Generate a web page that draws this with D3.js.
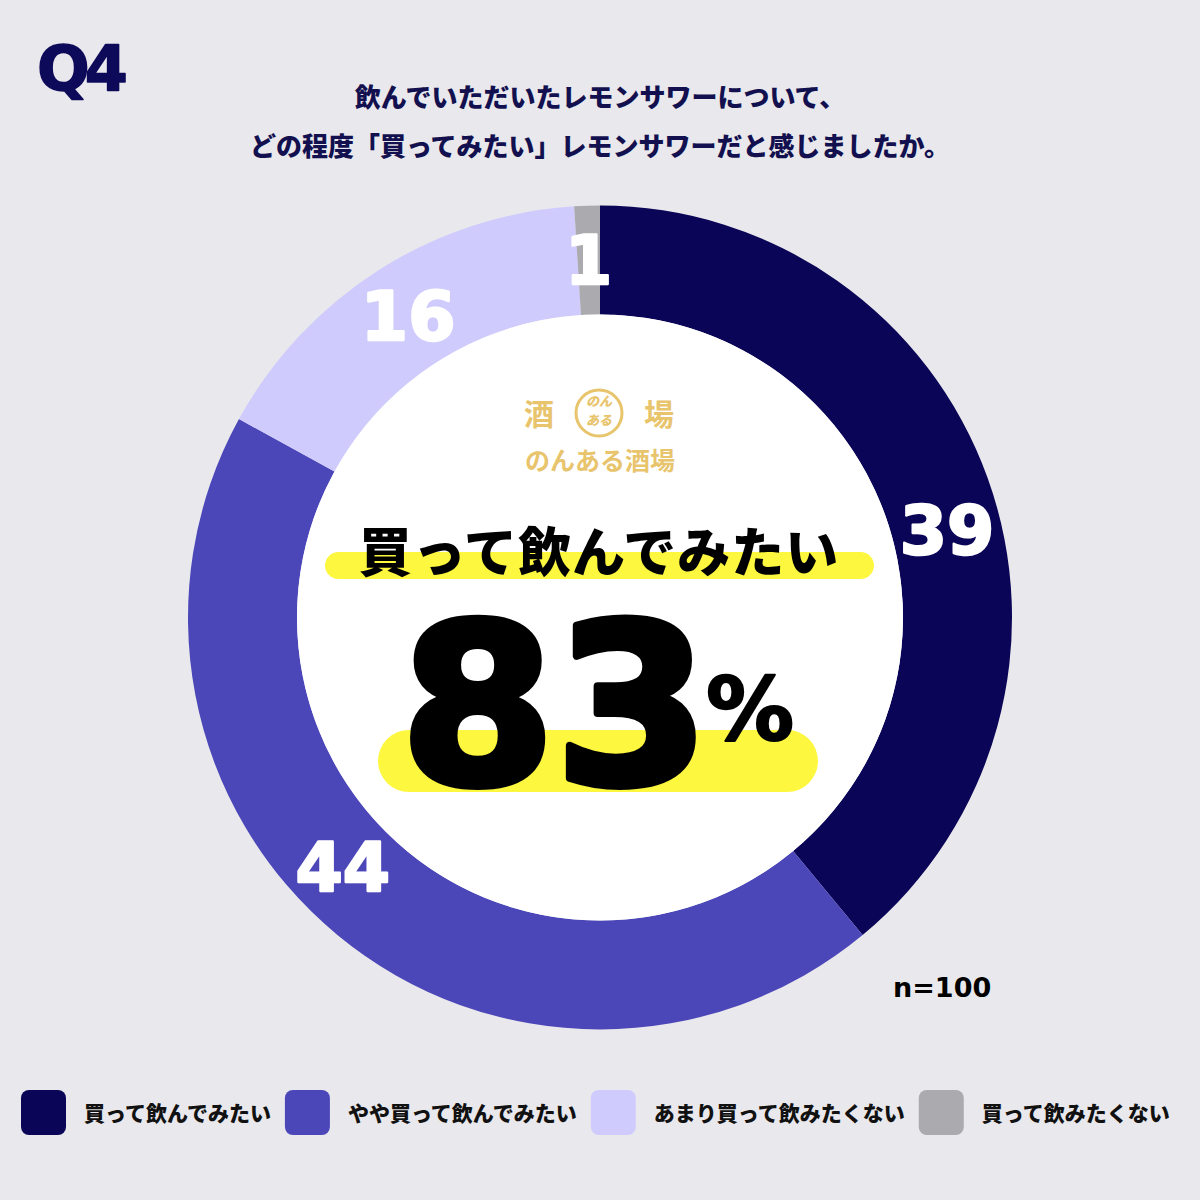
<!DOCTYPE html>
<html>
<head>
<meta charset="utf-8">
<script src="https://cdn.jsdelivr.net/npm/d3@7"></script>
<style>
  body { margin: 0; background: #e9e8ec; }
  svg { display: block; }
</style>
</head>
<body>
<svg id="chart" width="1200" height="1200"></svg>
<script>
// data
const categories = ['買って飲んでみたい', 'やや買って飲んでみたい', 'あまり買って飲みたくない', '買って飲みたくない'];
const values = [39, 44, 16, 1];
const titleLines = ['飲んでいただいたレモンサワーについて、', 'どの程度「買ってみたい」レモンサワーだと感じましたか。'];
const questionLabel = 'Q4';
const headline = '買って飲んでみたい';
const sampleSize = 100;
const logoTop = ['酒', '場'];
const logoMark = ['のん', 'ある'];
const logoName = 'のんある酒場';

const COLORS = ['#0a0556', '#4c47b9', '#cfccfd', '#ababaf'];
const NAVY = '#12104f';
const GOLD = '#e8c46c';
const YELLOW = '#fdf73f';
const JP = "'Noto Sans CJK JP', 'Noto Sans', sans-serif";
const NUM = "'DejaVu Sans', 'Liberation Sans', sans-serif";

const SVG = d3.select('#chart');
const WIDTH = 1200;
const CX = 600;
const CY = 617.5;
const OUTER = 412;
const INNER = 303;
const LABEL_R = 358;

SVG.append('rect')
  .attr('width', WIDTH)
  .attr('height', 1200)
  .attr('fill', '#e9e8ec');

// question number + title
SVG.append('text')
  .text(questionLabel)
  .attr('x', 37)
  .attr('y', 90)
  .style('font-family', NUM)
  .style('font-weight', 'bold')
  .style('font-size', '62px')
  .style('letter-spacing', '-5px')
  .style('fill', '#0e0a5a')
  .style('stroke', '#0e0a5a')
  .style('stroke-width', 1.5)
  .style('stroke-linejoin', 'round');

SVG.append('g')
  .attr('id', 'title')
  .selectAll('text')
  .data(titleLines)
  .join('text')
  .text((d) => d)
  .attr('x', WIDTH / 2)
  .attr('y', (d, i) => 95 + i * 49)
  .attr('text-anchor', 'middle')
  .attr('dominant-baseline', 'central')
  .style('font-family', JP)
  .style('font-weight', 900)
  .style('font-size', '26px')
  .style('fill', NAVY);

// donut
const pie = d3.pie().sort(null).value((d) => d);
const arcs = pie(values);
const arc = d3.arc().innerRadius(INNER).outerRadius(OUTER);

const DONUT = SVG.append('g')
  .attr('id', 'donut')
  .attr('transform', `translate(${CX},${CY})`);

DONUT.selectAll('path')
  .data(arcs)
  .join('path')
  .attr('d', arc)
  .style('fill', (d, i) => COLORS[i]);

DONUT.append('circle')
  .attr('r', INNER)
  .style('fill', '#ffffff');

// value labels, big slices get theirs a little past the middle
DONUT.selectAll('text.val')
  .data(arcs)
  .join('text')
  .attr('class', 'val')
  .text((d) => d.data)
  .each((d, i, n) => {
    const a = d.startAngle + (d.endAngle - d.startAngle) * (d.data > 30 ? 0.54 : 0.5);
    d3.select(n[i])
      .attr('x', LABEL_R * Math.sin(a))
      .attr('y', -LABEL_R * Math.cos(a));
  })
  .attr('dy', '0.36em')
  .attr('text-anchor', 'middle')
  .style('font-family', NUM)
  .style('font-weight', 'bold')
  .style('font-size', '68px')
  .style('fill', '#ffffff')
  .style('stroke', '#ffffff')
  .style('stroke-width', 2.5)
  .style('stroke-linejoin', 'round');

// logo
const LOGO = SVG.append('g').attr('id', 'logo').style('fill', GOLD);
LOGO.selectAll('text.top')
  .data(logoTop)
  .join('text')
  .attr('class', 'top')
  .text((d) => d)
  .attr('x', (d, i) => (i === 0 ? 539 : 659))
  .attr('y', 412)
  .attr('text-anchor', 'middle')
  .attr('dominant-baseline', 'central')
  .style('font-family', JP)
  .style('font-weight', 700)
  .style('font-size', '30px');
LOGO.append('circle')
  .attr('cx', 599)
  .attr('cy', 413)
  .attr('r', 23)
  .style('fill', 'none')
  .style('stroke', GOLD)
  .style('stroke-width', 3);
LOGO.append('text')
  .attr('class', 'mark')
  .attr('text-anchor', 'middle')
  .style('font-family', JP)
  .style('font-weight', 900)
  .style('font-size', '13px')
  .style('font-style', 'italic')
  .selectAll('tspan')
  .data(logoMark)
  .join('tspan')
  .text((d) => d)
  .attr('x', 599)
  .attr('y', (d, i) => 406 + i * 19);
LOGO.append('text')
  .text(logoName)
  .attr('x', 600)
  .attr('y', 459)
  .attr('text-anchor', 'middle')
  .attr('dominant-baseline', 'central')
  .style('font-family', JP)
  .style('font-weight', 700)
  .style('font-size', '25px');

// highlight bars
SVG.append('rect')
  .attr('x', 325)
  .attr('y', 552)
  .attr('width', 549)
  .attr('height', 27)
  .attr('rx', 13.5)
  .style('fill', YELLOW);
SVG.append('rect')
  .attr('x', 378)
  .attr('y', 730)
  .attr('width', 440)
  .attr('height', 62)
  .attr('rx', 31)
  .style('fill', YELLOW);

SVG.append('text')
  .text(headline)
  .attr('x', 599)
  .attr('y', 549)
  .attr('text-anchor', 'middle')
  .attr('dominant-baseline', 'central')
  .style('font-family', JP)
  .style('font-weight', 900)
  .style('font-size', '53px')
  .style('letter-spacing', '1px')
  .style('fill', '#000');

// share of "buy" answers = first two slices
const share = Math.round((d3.sum(values.slice(0, 2)) / d3.sum(values)) * 100);
SVG.append('text')
  .text(share)
  .attr('x', 555)
  .attr('y', 783)
  .attr('text-anchor', 'middle')
  .style('font-family', NUM)
  .style('font-weight', 'bold')
  .style('font-size', '222px')
  .style('fill', '#000')
  .style('stroke', '#000')
  .style('stroke-width', 8)
  .style('stroke-linejoin', 'round');
SVG.append('text')
  .text('%')
  .attr('x', 706)
  .attr('y', 740)
  .style('font-family', NUM)
  .style('font-weight', 'bold')
  .style('font-size', '88px')
  .style('fill', '#000')
  .style('stroke', '#000')
  .style('stroke-width', 2)
  .style('stroke-linejoin', 'round');

SVG.append('text')
  .text(`n=${sampleSize}`)
  .attr('x', 893)
  .attr('y', 997)
  .style('font-family', NUM)
  .style('font-weight', 'bold')
  .style('font-size', '27px')
  .style('fill', '#000');

// legend, laid out left to right
const LEGEND = SVG.append('g').attr('id', 'legend');
let lx = 21;
categories.forEach((item, index) => {
  LEGEND.append('rect')
    .attr('x', lx)
    .attr('y', 1090)
    .attr('width', 45)
    .attr('height', 45)
    .attr('rx', 8)
    .style('fill', COLORS[index]);
  const t = LEGEND.append('text')
    .text(item)
    .attr('x', lx + 63)
    .attr('y', 1112)
    .attr('dominant-baseline', 'central')
    .style('font-family', JP)
    .style('font-weight', 900)
    .style('font-size', '21px')
    .style('fill', '#111');
  lx += 63 + t.node().getComputedTextLength() + 14;
});
</script>
</body>
</html>
